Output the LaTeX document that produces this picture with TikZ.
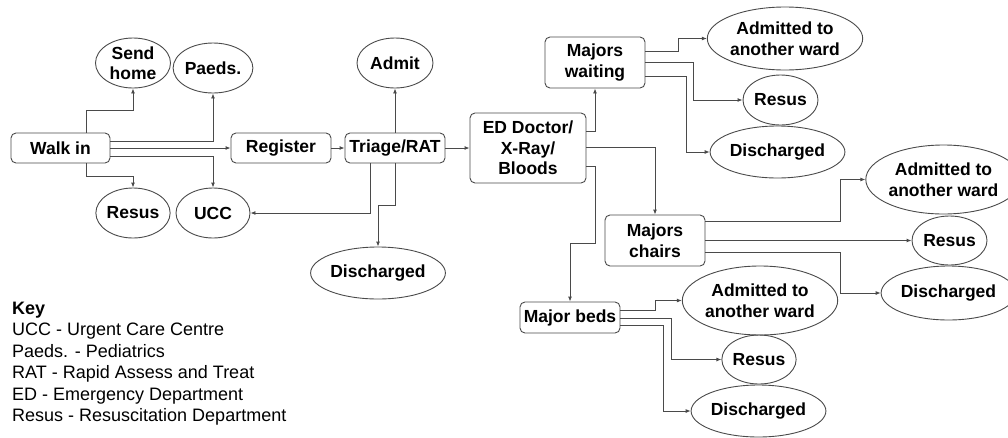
\documentclass[tikz,border=0pt]{standalone}
\usepackage{fontspec}
\setmainfont{Liberation Sans}
\usetikzlibrary{shapes.geometric,arrows.meta}
\definecolor{ln}{HTML}{4A4A4A}
\begin{document}
\begin{tikzpicture}[x=1pt,y=-1pt,
  box/.style={draw=ln,line width=0.9pt,rounded corners=5pt,inner sep=0pt,align=center,
    font=\fontsize{17.5}{20.5}\selectfont\bfseries},
  oval/.style={draw=ln,line width=0.9pt,ellipse,inner sep=0pt,align=center,
    font=\fontsize{17.5}{20.5}\selectfont\bfseries},
  arr/.style={draw=ln,line width=0.9pt,-{Latex[length=5pt,width=4pt]}},
  keyline/.style={anchor=base west,inner sep=0pt,font=\fontsize{18}{21}\selectfont}]
\useasboundingbox (0,0) rectangle (1008,437);
% boxes
\node[box,minimum width=99pt,minimum height=30pt] (walk) at (60.5,148) {Walk in};
\node[box,minimum width=100pt,minimum height=30pt] (register) at (281,148) {Register};
\node[box,minimum width=100pt,minimum height=30pt] (triage) at (395,148) {Triage/RAT};
\node[box,minimum width=116pt,minimum height=70pt] (ed) at (528,148) {ED Doctor/\\X-Ray/\\Bloods};
\node[box,minimum width=100pt,minimum height=51pt] (mw) at (595,62.5) {Majors\\waiting};
\node[box,minimum width=100pt,minimum height=51pt] (mc) at (655,240.5) {Majors\\chairs};
\node[box,minimum width=100pt,minimum height=31pt] (mb) at (570,317.5) {Major beds};
% ovals
\node[oval,minimum width=75pt,minimum height=50pt] (sendhome) at (133,63) {Send\\home};
\node[oval,minimum width=74pt,minimum height=50pt] (paeds) at (213,68) {Paeds.};
\node[oval,minimum width=76pt,minimum height=50pt] (admit) at (395,63) {Admit};
\node[oval,minimum width=74pt,minimum height=50pt] (resusL) at (133,213) {Resus};
\node[oval,minimum width=74pt,minimum height=50pt] (ucc) at (213,213) {UCC};
\node[oval,minimum width=110pt,minimum height=52pt] (dischL) at (378,273) {Discharged};
\node[oval,minimum width=150pt,minimum height=63pt] (admW) at (785,38.5) {Admitted to\\another ward};
\node[oval,minimum width=75pt,minimum height=50pt] (resW) at (780.5,100) {Resus};
\node[oval,minimum width=109pt,minimum height=52pt] (disW) at (777.5,152) {Discharged};
\node[oval,minimum width=127pt,minimum height=69pt] (admC) at (943.5,179.5) {Admitted to\\another ward};
\node[oval,minimum width=75pt,minimum height=49pt] (resC) at (949.5,240.5) {Resus};
\node[oval,minimum width=109pt,minimum height=54pt] (disC) at (948.5,293) {Discharged};
\node[oval,minimum width=140pt,minimum height=69pt] (admB) at (760,300.5) {Admitted to\\another ward};
\node[oval,minimum width=74pt,minimum height=49pt] (resB) at (759,359.5) {Resus};
\node[oval,minimum width=109pt,minimum height=52pt] (disB) at (758.5,411) {Discharged};
% connectors from Walk in
\draw[arr] ([xshift=25.5pt]walk.north) -- ++(0,-22) -| (sendhome.south);
\draw[arr] ([yshift=7pt]walk.east) -| (paeds.south);
\draw[arr] (walk.east) -- (register.west);
\draw[arr] ([yshift=-8pt]walk.east) -| (ucc.north);
\draw[arr] ([xshift=25.5pt]walk.south) -- ++(0,13) -| (resusL.north);
\draw[arr] (register.east) -- (triage.west);
\draw[arr] (triage.north) -- (admit.south);
\draw[arr] ([xshift=-25pt]triage.south) |- (ucc.east);
\draw[arr] (triage.south) -- ++(0,42) -| (dischL.north);
\draw[arr] (triage.east) -- (ed.west);
% from ED
\draw[arr] ([yshift=17pt]ed.east) -| (mw.south);
\draw[arr] ([yshift=1pt]ed.east) -| (mc.north);
\draw[arr] ([yshift=-18pt]ed.east) -- ++(9,0) -- ++(0,77) -| (mb.north);
% from Majors waiting
\draw[arr] ([yshift=11.5pt]mw.east) -- ++(33,0) |- (admW.west);
\draw[arr] ([yshift=0.5pt]mw.east) -- ++(48,0) |- (resW.west);
\draw[arr] ([yshift=-13.5pt]mw.east) -- ++(41,0) |- (disW.west);
% from Majors chairs
\draw[arr] ([yshift=19.5pt]mc.east) -- ++(135,0) |- (admC.west);
\draw[arr] (mc.east) -- (resC.west);
\draw[arr] ([yshift=-11.5pt]mc.east) -- ++(135,0) |- (disC.west);
% from Major beds
\draw[arr] ([yshift=7pt]mb.east) -- ++(35,0) |- (admB.west);
\draw[arr] ([yshift=-0.5pt]mb.east) -- ++(51,0) |- (resB.west);
\draw[arr] ([yshift=-8pt]mb.east) -- ++(43,0) |- (disB.west);
% key
\node[keyline,font=\fontsize{18}{21}\selectfont\bfseries] (k0) at (12,314.5) {Key};
\node[keyline] (k1) at (12,335.5) {UCC - Urgent Care Centre};
\node[keyline] (k2) at (12,357) {Paeds. - Pediatrics};
\node[keyline] (k3) at (12,378.5) {RAT - Rapid Assess and Treat};
\node[keyline] (k4) at (12,400) {ED - Emergency Department};
\node[keyline] (k5) at (12,421.5) {Resus - Resuscitation Department};
\end{tikzpicture}
\end{document}
